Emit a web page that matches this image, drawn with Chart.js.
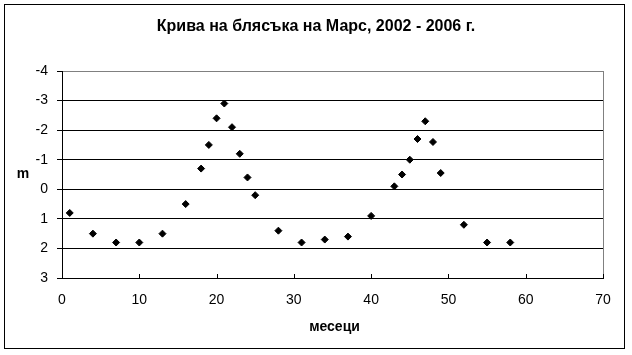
<!DOCTYPE html>
<html>
<head>
<meta charset="utf-8">
<script src="https://cdn.jsdelivr.net/npm/chart.js@4"></script>
<style>
  html, body { margin: 0; padding: 0; background: #fff; }
</style>
</head>
<body>
<canvas id="chart" width="632" height="355"></canvas>
<script>
(function () {
    const months = [1, 4, 7, 10, 13, 16, 18, 19, 20, 21, 22, 23, 24, 25, 28, 31, 34, 37, 40, 43, 44, 45, 46, 47, 48, 49, 52, 55, 58]
    const magnitude = [0.8, 1.5, 1.8, 1.8, 1.5, 0.5, -0.7, -1.5, -2.4, -2.9, -2.1, -1.2, -0.4, 0.2, 1.4, 1.8, 1.7, 1.6, 0.9, -0.1, -0.5, -1.0, -1.7, -2.3, -1.6, -0.55, 1.2, 1.8, 1.8]
    const xTicks = [0, 70, 10]   // min, max, step
    const yTicks = [-4, 3, 1]

    const FONT = 'Liberation Sans, Arial, sans-serif'

    // white page, outer frame, inside tick marks on x axis, axis titles
    const frame = {
        id: 'frame',
        beforeDraw(chart) {
            const c = chart.ctx
            c.save()
            c.fillStyle = '#fff'
            c.fillRect(0, 0, chart.width, chart.height)
            c.strokeStyle = '#000'
            c.lineWidth = 1
            c.strokeRect(4.5, 4.5, 620, 344)
            c.restore()
        },
        afterDraw(chart) {
            const c = chart.ctx
            const x = chart.scales.x
            const area = chart.chartArea
            c.save()
            c.strokeStyle = '#000'
            c.lineWidth = 1
            x.ticks.forEach(t => {
                const px = Math.round(x.getPixelForValue(t.value)) + 0.5
                c.beginPath()
                c.moveTo(px, area.bottom)
                c.lineTo(px, area.bottom - 4)
                c.stroke()
            })
            c.fillStyle = '#000'
            c.font = 'bold 14px ' + FONT
            c.textAlign = 'center'
            c.textBaseline = 'middle'
            c.fillText('m', 23, 174)
            c.fillText('месеци', (area.left + area.right) / 2 + 2, 327)
            c.restore()
        }
    }

    const data = {
        datasets: [{
            label: 'm',
            data: months.map((m, i) => ({ x: m, y: magnitude[i] })),
            pointStyle: 'rectRot',
            pointRadius: 3.5,
            backgroundColor: '#000',
            borderColor: '#000',
            borderWidth: 1
        }]
    }

    const config = {
        type: 'scatter',
        data: data,
        plugins: [frame],
        options: {
            responsive: false,
            animation: false,
            layout: {
                padding: { left: 29, right: 29, top: 0, bottom: 0 }
            },
            plugins: {
                legend: { display: false },
                tooltip: { enabled: false },
                title: {
                    display: true,
                    text: 'Крива на блясъка на Марс, 2002 - 2006 г.',
                    color: '#000',
                    font: { family: FONT, size: 16, weight: 'bold' },
                    padding: { top: 17, bottom: 34.8 }
                }
            },
            scales: {
                x: {
                    type: 'linear',
                    min: xTicks[0],
                    max: xTicks[1],
                    ticks: {
                        stepSize: xTicks[2],
                        color: '#000',
                        padding: 14,
                        font: { family: FONT, size: 14 }
                    },
                    grid: {
                        drawTicks: false,
                        color: ctx => ctx.tick && ctx.tick.value === xTicks[1] ? '#808080' : 'rgba(0,0,0,0)'
                    },
                    border: { display: true, color: '#000' },
                    afterFit: s => { s.height = 77 }
                },
                y: {
                    type: 'linear',
                    reverse: true,
                    min: yTicks[0],
                    max: yTicks[1],
                    ticks: {
                        stepSize: yTicks[2],
                        color: '#000',
                        padding: 9,
                        font: { family: FONT, size: 14 }
                    },
                    grid: {
                        color: ctx => ctx.tick && ctx.tick.value === yTicks[0] ? '#808080' : '#000',
                        tickColor: '#000',
                        tickLength: 5
                    },
                    border: { display: true, color: '#000' },
                    afterFit: s => { s.width = 33 }
                }
            }
        }
    }

    new Chart(document.getElementById('chart'), config)
})()
</script>
</body>
</html>
